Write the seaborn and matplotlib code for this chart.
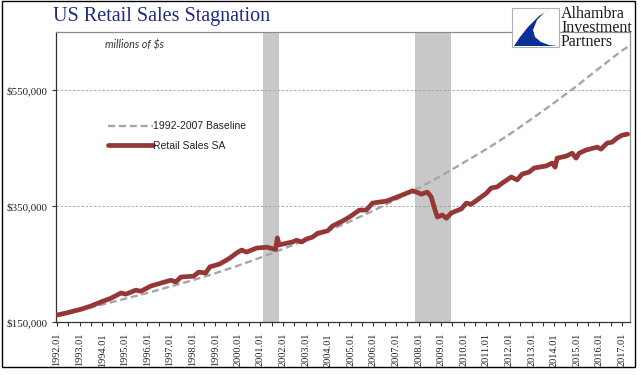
import matplotlib
matplotlib.use("Agg")
import matplotlib.pyplot as plt
import matplotlib.patches as mpatches
from matplotlib.lines import Line2D
import seaborn as sns
import pandas as pd
import numpy as np

# ---------------- data ----------------
retail_t = [1992.0, 1992.4, 1993.06, 1993.5, 1993.94, 1994.39, 1994.83, 1995.05, 1995.49, 1995.71,
            1996.15, 1996.59, 1997.04, 1997.26, 1997.48, 1998.05, 1998.27, 1998.58, 1998.76, 1999.2,
            1999.64, 1999.95, 2000.17, 2000.39, 2000.83, 2001.28, 2001.67, 2001.75, 2001.83, 2002.42,
            2002.6, 2002.82, 2003.04, 2003.31, 2003.53, 2003.97, 2004.19, 2004.63, 2004.94, 2005.07,
            2005.38, 2005.69, 2005.96, 2006.58, 2007.15, 2007.72, 2007.9, 2008.12, 2008.39, 2008.56,
            2008.7, 2008.83, 2009.05, 2009.23, 2009.45, 2009.89, 2010.11, 2010.33, 2010.77, 2011.0,
            2011.21, 2011.48, 2011.7, 2012.1, 2012.36, 2012.58, 2012.89, 2013.11, 2013.64, 2013.91,
            2014.04, 2014.13, 2014.53, 2014.79, 2014.97, 2015.1, 2015.41, 2015.9, 2016.07, 2016.34,
            2016.56, 2016.78, 2017.0, 2017.25]
retail_v = [162000, 165500, 172000, 177500, 184500, 191000, 200000, 198000, 205000, 203000,
            212000, 217000, 222000, 219000, 227500, 229000, 236000, 234500, 245000, 250000,
            260000, 269000, 274000, 270500, 277500, 279000, 275000, 295000, 283000, 288000,
            291000, 288000, 293000, 296500, 303000, 307000, 315500, 324000, 331000, 334500,
            343000, 343000, 355000, 358500, 367000, 376000, 374000, 370500, 374000, 365500,
            346500, 331000, 334500, 329000, 338000, 345000, 355000, 353000, 365500, 372000,
            381000, 383000, 389500, 400000, 395000, 405000, 408500, 415500, 419000, 424000,
            417000, 432500, 436000, 441000, 432500, 441000, 446500, 451500, 448000, 458500,
            460000, 467000, 472000, 474000]

baseline_t = [1992, 1993, 1994, 1995, 1996, 1997, 1998, 1999, 2000, 2001, 2002, 2003, 2004,
              2005, 2006, 2007, 2008, 2009, 2010, 2011, 2012, 2013, 2014, 2015, 2016, 2017, 2017.25]
baseline_v = [161000, 170000, 180000, 190000, 200000, 211000, 222000, 234000, 247000, 261000,
              276000, 291000, 307000, 324000, 342000, 361000, 381000, 402000, 425000, 448000,
              473000, 500000, 528000, 557000, 588000, 618000, 624000]

recessions = [(2001.13, 2001.84), (2007.85, 2009.42)]
year_ticks = list(range(1992, 2018))
year_labels = [f"{y}.01" for y in year_ticks]
y_ticks = [150000, 350000, 550000]
y_labels = ["$150,000", "$350,000", "$550,000"]

title = "US Retail Sales Stagnation"
unit_note = "millions of $s"
series_names = ["1992-2007 Baseline", "Retail Sales SA"]
logo_text = "Alhambra\nInvestment\nPartners"

# ---------------- style ----------------
sns.set_theme(style="white")
plt.rcParams['font.family'] = ['Liberation Serif', 'DejaVu Serif']

W, H = 641, 375
fig = plt.figure(figsize=(W / 100, H / 100), dpi=100)

def fx(px):
    return px / W

def fy(py):
    return 1 - py / H

ax = fig.add_axes([fx(56), fy(322), fx(630) - fx(56), fy(32) - fy(322)])

for a, b in recessions:
    ax.axvspan(a, b, color="#c8c8c8", lw=0, zorder=0)

df_base = pd.DataFrame({"t": baseline_t, "v": baseline_v})
df_ret = pd.DataFrame({"t": retail_t, "v": retail_v})

sns.lineplot(data=df_base, x="t", y="v", ax=ax, color="#a6a6a6", lw=1.7,
             estimator=None, sort=False, zorder=3, dashes=False)
ax.lines[-1].set_dashes((3, 1.6))
sns.lineplot(data=df_ret, x="t", y="v", ax=ax, color="#953735", lw=3.4,
             estimator=None, sort=False, zorder=4, solid_joinstyle="round",
             solid_capstyle="round")

ax.set_xlim(1991.956, 2017.354)
ax.set_ylim(150000, 650000)
ax.set_xlabel("")
ax.set_ylabel("")

ax.set_xticks(year_ticks)
ax.set_xticklabels(year_labels, rotation=90, fontsize=7.4, color="#222222")
ax.set_xticks([y + 0.5 for y in year_ticks[:-1]], minor=True)
ax.tick_params(axis="x", which="both", direction="out", length=3, width=0.8,
               color="#333333", pad=5, bottom=True)
ax.set_yticks(y_ticks)
ax.set_yticklabels(y_labels, fontsize=7.9, color="#222222")
ax.tick_params(axis="y", direction="out", length=3, width=0.8, color="#333333", pad=3, left=True)

for y in y_ticks[1:]:
    ax.axhline(y, color="#a0a0a0", lw=0.6, ls=(0, (3, 2)), zorder=1)

for s in ["left", "bottom"]:
    ax.spines[s].set_color("#333333")
    ax.spines[s].set_linewidth(0.9)
for s in ["top", "right"]:
    ax.spines[s].set_color("#8c8c8c")
    ax.spines[s].set_linewidth(0.9)
    ax.spines[s].set_visible(True)

handles = [Line2D([0], [0], color="#a6a6a6", lw=1.7, dashes=(3, 1.6)),
           Line2D([0], [0], color="#953735", lw=3.4, solid_capstyle="round")]
leg = ax.legend(handles, series_names, loc="upper left",
                bbox_to_anchor=((104 - 56) / 574, (322 - 117) / 290),
                frameon=False, handlelength=4.3, handletextpad=0.05,
                labelspacing=0.95, borderaxespad=0,
                prop={"family": "Liberation Sans", "size": 7.5})
for t in leg.get_texts():
    t.set_color("#222222")

ax.text((105 - 56) / 574, (322 - 45) / 290, unit_note, transform=ax.transAxes,
        fontsize=7.8, style="italic", family=["Lato", "DejaVu Sans"], color="#333333",
        ha="left", va="center")

# title
fig.text(fx(53), fy(17), title, fontsize=14.5, color="#1f2a7e", ha="left", va="center",
         family=["Liberation Serif", "DejaVu Serif"])

# logo
box = mpatches.Rectangle((fx(512), fy(47)), fx(559) - fx(512), fy(8) - fy(47),
                         transform=fig.transFigure, facecolor="white",
                         edgecolor="#b0b0b0", lw=0.8, zorder=5)
fig.patches.append(box)
sail_px = [(550, 9), (539, 16), (528, 27), (520, 37), (514, 46), (557, 46),
           (549, 45), (541, 42), (535, 37), (533, 30), (537, 20), (545, 12)]
sail = mpatches.Polygon([(fx(x), fy(y)) for x, y in sail_px], closed=True,
                        transform=fig.transFigure, facecolor="#0a2f96",
                        edgecolor="none", zorder=6)
fig.patches.append(sail)
fig.text(fx(561), fy(28), logo_text, fontsize=11.5, color="#1a1a1a", ha="left",
         va="center", linespacing=0.82, family=["Liberation Serif", "DejaVu Serif"])

# outer frame
frame = mpatches.Rectangle((fx(2), fy(367)), fx(635) - fx(2), fy(0.5) - fy(367),
                           transform=fig.transFigure, fill=False,
                           edgecolor="#000000", lw=1.0, zorder=10)
fig.patches.append(frame)

fig.savefig("out.png", dpi=100)
